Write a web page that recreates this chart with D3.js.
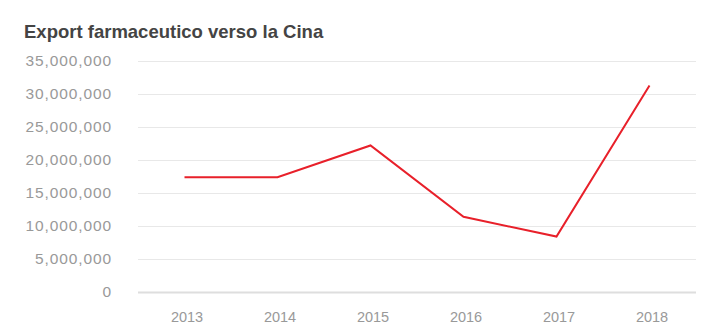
<!DOCTYPE html>
<html>
<head>
<meta charset="utf-8">
<script src="https://cdn.jsdelivr.net/npm/d3@7"></script>
<style>
  body { margin: 0; background: #fff; }
  svg { display: block; font-family: "Liberation Sans", Arial, sans-serif; }
</style>
</head>
<body>
<svg width="726" height="327"></svg>
<script>
// data
var years = ['2013', '2014', '2015', '2016', '2017', '2018'];
var exportValues = [17400000, 17400000, 22200000, 11400000, 8400000, 31300000];
var yTicks = [0, 5000000, 10000000, 15000000, 20000000, 25000000, 30000000, 35000000];

var data = years.map((y, i) => ({ year: y, value: exportValues[i] }));

var svg = d3.select('svg');

// scales
var x = d3.scalePoint()
    .domain(years)
    .range([138, 696])
    .padding(0.5);

var y = d3.scaleLinear()
    .domain([0, 35000000])
    .range([292, 61]);

// title
svg.append('text')
    .attr('x', 24)
    .attr('y', 37.5)
    .attr('fill', '#444')
    .style('font-size', '18.5px')
    .style('font-weight', 'bold')
    .text('Export farmaceutico verso la Cina');

// gridlines
svg.append('g')
    .selectAll('line')
    .data(yTicks)
    .enter()
    .append('line')
    .attr('x1', 138)
    .attr('x2', 696)
    .attr('y1', d => Math.round(y(d)) + 0.5)
    .attr('y2', d => Math.round(y(d)) + 0.5)
    .attr('stroke', d => d === 0 ? '#dedede' : '#e8e8e8')
    .attr('stroke-width', d => d === 0 ? 2 : 1);

// y axis labels
var yAxis = d3.axisLeft(y)
    .tickValues(yTicks)
    .tickFormat(d3.format(','))
    .tickSize(0)
    .tickPadding(0);
var gy = svg.append('g')
    .attr('transform', 'translate(112,0)')
    .call(yAxis);
gy.select('.domain').remove();
gy.selectAll('text')
    .attr('fill', '#999')
    .style('font-size', '15.5px')
    .style('letter-spacing', '0.9px')
    .style('font-family', '"Liberation Sans", Arial, sans-serif');

// x axis labels
var xAxis = d3.axisBottom(x).tickSize(0).tickPadding(0);
var gx = svg.append('g')
    .attr('transform', 'translate(2,312)')
    .call(xAxis);
gx.select('.domain').remove();
gx.selectAll('text')
    .attr('fill', '#999')
    .style('font-size', '14.5px')
    .style('font-family', '"Liberation Sans", Arial, sans-serif');

// line
var line = d3.line()
    .x(d => x(d.year))
    .y(d => y(d.value));

svg.append('path')
    .datum(data)
    .attr('d', line)
    .attr('fill', 'none')
    .attr('stroke', '#e8202a')
    .attr('stroke-width', 2);
</script>
</body>
</html>
